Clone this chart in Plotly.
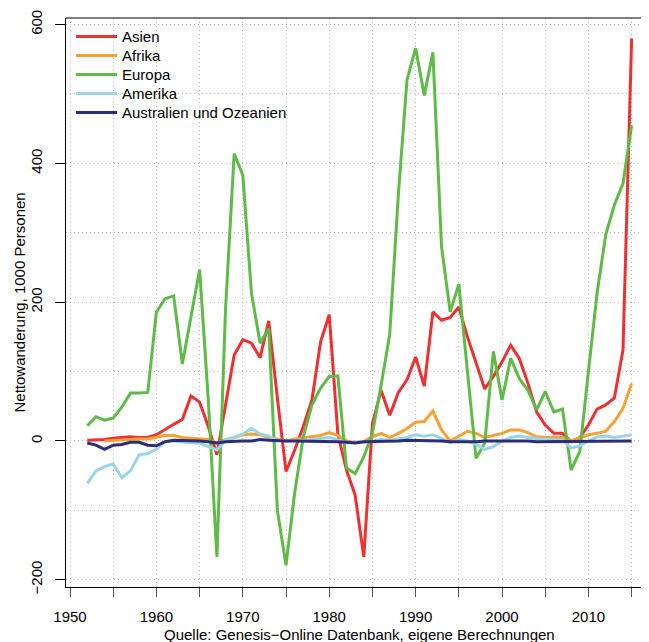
import plotly.graph_objects as go

years = list(range(1952, 2016))

asien = [1, 1, 2, 4, 5, 6, 5, 5,                      # 1952-1959
         9, 17, 24, 31, 65, 56, 21, -20, 49, 124,     # 1960-1969
         146, 141, 120, 173, 62, -44, -13, 21, 59, 143,  # 1970-1979
         182, 10, -42, -78, -167, 25, 73, 37, 70, 88,    # 1980-1989
         121, 79, 186, 174, 178, 193, 150, 112, 75, 93,  # 1990-1999
         114, 138, 119, 83, 42, 23, 11, 11, -1, 5,       # 2000-2009
         23, 46, 52, 62, 131, 580]                       # 2010-2015

afrika = [None, None, 0, 1, 2, 3, 3, 3,
          5, 8, 8, 5, 4, 3, 2, -3, 2, 5,
          9, 10, 9, 5, 2, 0, 3, 5, 6, 8,
          12, 8, 0, -2, -1, 6, 11, 5, 11, 18,
          27, 28, 43, 16, 0, 7, 14, 11, 5, 8,
          11, 16, 16, 12, 6, 5, 5, 5, 0, 4,
          9, 11, 14, 28, 47, 83]

europa = [22, 35, 30, 33, 49, 69, 69, 70,
          186, 205, 209, 111, 179, 247, 60, -167, 190, 414,
          383, 213, 141, 162, -100, -179, -75, 6, 52, 76,
          93, 94, -39, -47, -23, 11, 80, 153, 355, 520,
          566, 498, 560, 280, 186, 226, 100, -25, -3, 129,
          59, 119, 90, 73, 45, 71, 42, 46, -42, -15,
          100, 213, 297, 340, 371, 455]

amerika = [-61, -43, -37, -33, -53, -43, -20, -18,
           -12, -1, 0, -2, -3, -3, -8, -13, 1, 5,
           10, 18, 10, 7, 1, 0, 0, 1, 2, 3,
           5, 2, -3, -2, -2, 0, 2, 1, 3, 5,
           9, 7, 9, 4, -2, 2, 0, -5, -12, -8,
           0, 5, 7, 5, 3, 2, 2, 1, -10, -7,
           0, 6, 7, 5, 7, 9]

australien = [-3, -6, -12, -6, -5, -2, -2, -6,
              -7, -1, 1, 1, 0, 0, -1, -3, -1, 0,
              0, 0, 2, 1, 0, 0, 0, 0, 0, 0,
              0, -1, -2, -3, -1, -1, 0, 0, 0, 1,
              1, 1, 1, 0, -1, -1, -2, -1, 0, 0,
              0, 1, 1, 0, -1, -1, -1, -1, -1, -1,
              0, 0, 0, 0, 0, 0]

series_names = ["Asien", "Afrika", "Europa", "Amerika", "Australien und Ozeanien"]
series_values = [asien, afrika, europa, amerika, australien]
colors = ["#EE3030", "#F9A033", "#5EBB47", "#9BD3E8", "#2C2C7C"]

x_tickvals = list(range(1950, 2020, 5))
x_ticktext = [str(v) if v % 10 == 0 else "" for v in x_tickvals]
y_tickvals = [-200, 0, 200, 400, 600]
y_ticktext = ["\u2212200", "0", "200", "400", "600"]
y_minor = [-100, 100, 300, 500]

FONT = "Liberation Sans, Arial, Helvetica, sans-serif"
GRIDCOL = "#b8b8b8"

# page body has an 8px margin; figure is sized/offset to compensate
W, H = 641, 634
ML, MR, MT, MB = 58, 0, 10, 55
PH = H - MT - MB  # plot height in px

legend_ids = ["legend", "legend2", "legend3", "legend4", "legend5"]

fig = go.Figure()
for name, vals, col, lid in zip(series_names, series_values, colors, legend_ids):
    fig.add_trace(go.Scatter(x=years, y=vals, mode="lines", name=name,
                             line=dict(color=col, width=3), legend=lid))

grid = dict(showgrid=True, gridcolor=GRIDCOL, griddash="1px,3px", gridwidth=1)

legend_layout = {}
for i, lid in enumerate(legend_ids):
    top_px = 2.3 + 19.0 * i  # legend top below plot top, px
    legend_layout[lid] = dict(
        x=0.0086, y=1 - top_px / PH, xanchor="left", yanchor="top",
        bgcolor="rgba(0,0,0,0)", borderwidth=0, itemwidth=41,
        font=dict(family=FONT, size=15, color="black"))

fig.update_layout(
    width=W, height=H,
    margin=dict(l=ML, r=MR, t=MT, b=MB, autoexpand=False),
    paper_bgcolor="white", plot_bgcolor="white",
    font=dict(family=FONT, size=15, color="black"),
    showlegend=True,
    xaxis=dict(range=[1949.537, 2017.01], tickmode="array",
               tickvals=x_tickvals, ticktext=x_ticktext, automargin=False,
               ticks="outside", ticklen=9, tickcolor="#555555", tickwidth=1,
               ticklabelstandoff=7,
               showline=True, linecolor="black", linewidth=1,
               zeroline=False, **grid),
    yaxis=dict(range=[-210.4, 609.5], tickmode="array",
               tickvals=y_tickvals, ticktext=y_ticktext, tickangle=-90,
               automargin=False, ticklabelstandoff=7,
               ticks="outside", ticklen=10, tickcolor="black", tickwidth=1,
               showline=True, linecolor="black", linewidth=1,
               zeroline=False,
               minor=dict(tickvals=y_minor, showgrid=True, gridcolor=GRIDCOL,
                          griddash="1px,3px", ticks=""),
               **grid),
    shapes=[dict(type="line", xref="paper", yref="paper", x0=0, x1=1, y0=1, y1=1,
                 line=dict(color="black", width=1))],
    annotations=[
        dict(text="Quelle: Genesis\u2212Online Datenbank, eigene Berechnungen",
             xref="paper", yref="paper", x=0.503, y=-(634 - 587) / PH,
             xanchor="center", yanchor="middle", showarrow=False,
             font=dict(family=FONT, size=15, color="black")),
        dict(text="Nettowanderung, 1000 Personen", textangle=-90,
             xref="paper", yref="paper", x=-(66 - 19) / (W - ML - MR), y=0.5,
             xanchor="center", yanchor="middle", showarrow=False,
             font=dict(family=FONT, size=15, color="black")),
    ],
    **legend_layout,
)

fig.write_html("out.html")
